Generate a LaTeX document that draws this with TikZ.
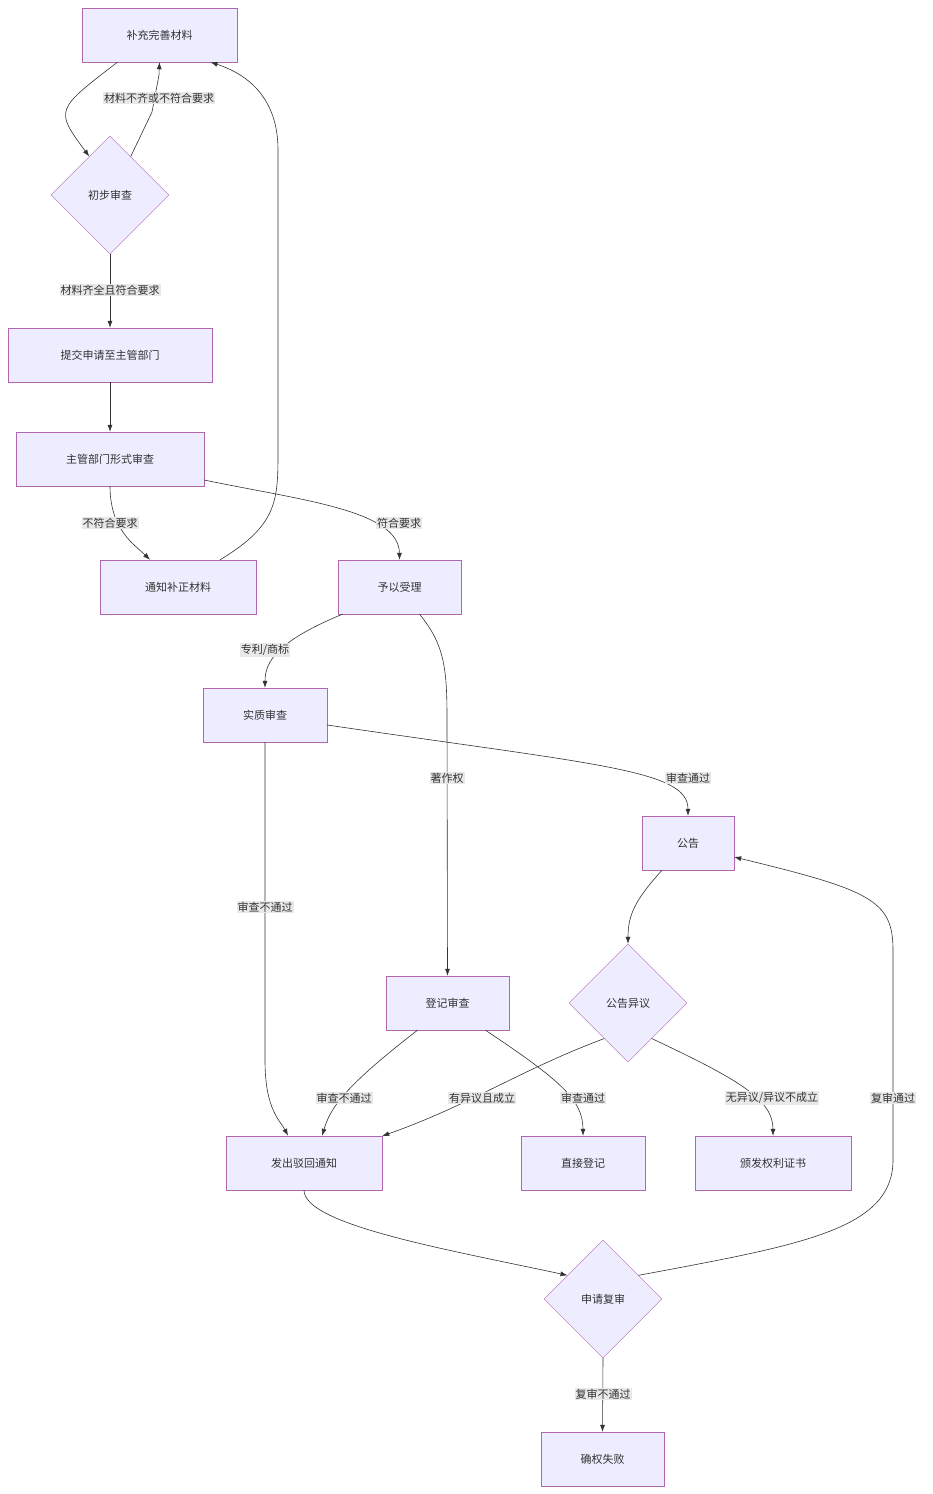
\documentclass[tikz,border=0pt]{standalone}
\usepackage{fontspec}
\setmainfont{Noto Sans CJK SC}
\usetikzlibrary{calc,positioning,shapes.geometric,arrows.meta}

\begin{document}
\begin{tikzpicture}[x=1pt,y=-1pt,>={Latex[length=7pt,width=5pt]},
	box/.style={draw=violet!60,fill=blue!7,minimum height=54pt,inner sep=0pt,font=\fontsize{11}{13}\selectfont,text=black!80},
	dia/.style={diamond,draw=violet!60,fill=blue!7,minimum width=118pt,minimum height=118pt,inner sep=0pt,font=\fontsize{11}{13}\selectfont,text=black!80},
	edge/.style={draw=black!80,->,line width=0.6pt},
	lbl/.style={fill=black!9,inner sep=1pt,font=\fontsize{11}{13}\selectfont,text=black!80}
	]
	\useasboundingbox (0,0) rectangle (933,1494);

	\node[box,minimum width=155pt] (n1) at (159.5,35) {补充完善材料};
	\node[dia] (d1) at (110,195) {初步审查};
	\node[box,minimum width=204pt] (n2) at (110,355) {提交申请至主管部门};
	\node[box,minimum width=188pt] (n3) at (110,459) {主管部门形式审查};
	\node[box,minimum width=156pt] (n4) at (178,587) {通知补正材料};
	\node[box,minimum width=123pt] (n5) at (399.5,587) {予以受理};
	\node[box,minimum width=124pt] (n6) at (265,715) {实质审查};
	\node[box,minimum width=92pt] (n7) at (688,843) {公告};
	\node[dia] (d2) at (628,1003) {公告异议};
	\node[box,minimum width=123pt] (n8) at (447.5,1003) {登记审查};
	\node[box,minimum width=156pt] (n9) at (304,1163) {发出驳回通知};
	\node[box,minimum width=124pt] (n10) at (583,1163) {直接登记};
	\node[box,minimum width=156pt] (n11) at (773,1163) {颁发权利证书};
	\node[dia] (d3) at (603,1299) {申请复审};
	\node[box,minimum width=123pt] (n12) at (602.5,1459) {确权失败};

	% first check loop
	\draw[edge] ($(n1.south)+(-42,0)$) .. controls (55,110) .. ($(d1.north)!0.35!(d1.west)$);
	\draw[edge] ($(d1.north)!0.35!(d1.east)$) -- (152,112) -- (159,75) -- (n1.south);
	\node[lbl] (l1) at (159,98) {材料不齐或不符合要求};
	\draw[edge] (d1.south) -- (n2.north);
	\node[lbl] (l2) at (110,290) {材料齐全且符合要求};
	\draw[edge] (n2) -- (n3);

	% formal review
	\draw[edge] ($(n3.south)+(0,0)$) .. controls (110,530) and (135,545) .. ($(n4.north)+(-28,0)$);
	\node[lbl] (l3) at (110,523) {不符合要求};
	\draw[edge] ($(n3.east)+(0,21)$) .. controls (300,500) and (399,510) .. (n5.north);
	\node[lbl] (l4) at (399,523) {符合要求};
	\draw[edge] ($(n4.north)+(42,0)$) .. controls (278,525) and (278,500) .. (278,450)
		-- (278,150) .. controls (278,100) and (250,75) .. ($(n1.south)+(51,0)$);

	% acceptance
	\draw[edge] ($(n5.south)+(-57,0)$) .. controls (280,640) and (265,660) .. (n6.north);
	\node[lbl] (l5) at (265,650) {专利/商标};
	\draw[edge] ($(n5.south)+(20,0)$) .. controls (445,645) and (447,670) .. (447,720) -- (n8.north);
	\node[lbl] (l6) at (447,778) {著作权};
	\draw[edge] ($(n6.east)+(0,10)$) .. controls (600,765) and (688,770) .. (n7.north);
	\node[lbl] (l7) at (688,778) {审查通过};
	\draw[edge] (n6.south) -- (265,1060) .. controls (265,1110) and (280,1120) .. ($(n9.north)+(-16,0)$);
	\node[lbl] (l8) at (265,907) {审查不通过};

	% announcement
	\draw[edge] ($(n7.south)+(-26,0)$) .. controls (635,900) and (628,915) .. (d2.north);
	\draw[edge] ($(n8.south)+(-30,0)$) .. controls (340,1090) and (330,1110) .. ($(n9.north)+(18,0)$);
	\node[lbl] (l9) at (344,1098) {审查不通过};
	\draw[edge] ($(n8.south)+(38,0)$) .. controls (560,1080) and (583,1100) .. (n10.north);
	\node[lbl] (l10) at (583,1098) {审查通过};
	\draw[edge] ($(d2.south)!0.4!(d2.west)$) .. controls (520,1070) and (470,1105) .. ($(n9.east)+(0,-27)$);
	\node[lbl] (l11) at (482,1098) {有异议且成立};
	\draw[edge] ($(d2.south)!0.4!(d2.east)$) .. controls (740,1080) and (773,1100) .. (n11.north);
	\node[lbl] (l12) at (772,1098) {无异议/异议不成立};

	% re-examination
	\draw[edge] (n9.south) .. controls (304,1225) and (450,1250) .. ($(d3.north)!0.6!(d3.west)$);
	\draw[edge] ($(d3.north)!0.6!(d3.east)$) .. controls (800,1245) and (893,1230) .. (893,1160)
		-- (893,950) .. controls (893,900) and (870,890) .. ($(n7.east)+(0,14)$);
	\node[lbl] (l13) at (893,1098) {复审通过};
	\draw[edge] (d3.south) -- (n12.north);
	\node[lbl] (l14) at (603,1394) {复审不通过};
\end{tikzpicture}
\end{document}
